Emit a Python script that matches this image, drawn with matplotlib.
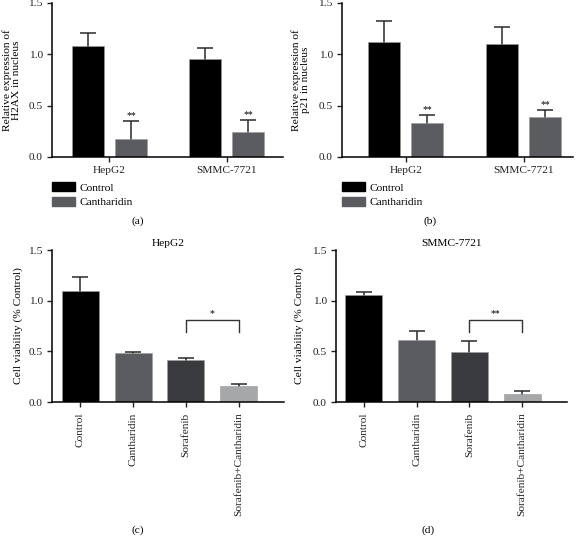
import numpy as np
import matplotlib
matplotlib.use("Agg")
import matplotlib.pyplot as plt

plt.rcParams['font.family'] = ['Liberation Serif', 'DejaVu Serif']

# datos paneles a y b
grupos = ["HepG2", "SMMC-7721"]
h2ax_control = [1.08, 0.95]
h2ax_control_err = [0.13, 0.11]
h2ax_canth = [0.18, 0.24]
h2ax_canth_err = [0.17, 0.12]

p21_control = [1.12, 1.10]
p21_control_err = [0.20, 0.17]
p21_canth = [0.33, 0.39]
p21_canth_err = [0.08, 0.07]

# datos paneles c y d
tratamientos = ["Control", "Cantharidin", "Sorafenib", "Sorafenib+Cantharidin"]
viab_hepg2 = [1.10, 0.48, 0.41, 0.155]
viab_hepg2_err = [0.13, 0.015, 0.02, 0.025]
viab_smmc = [1.06, 0.61, 0.49, 0.08]
viab_smmc_err = [0.03, 0.09, 0.11, 0.03]

W, H = 581, 536
negro = "#000000"
gris = "#5a5c5f"
gris_osc = "#3a3b3e"
gris_cl = "#a5a7a9"
fs = 8.2

fig = plt.figure(figsize=(W / 100, H / 100), dpi=100)


def ejes(x0, y_top, x1, y_bot):
    ax = fig.add_axes([x0 / W, 1 - y_bot / H, (x1 - x0) / W, (y_bot - y_top) / H])
    ax.spines['top'].set_visible(False)
    ax.spines['right'].set_visible(False)
    ax.spines['left'].set_linewidth(1.1)
    ax.spines['bottom'].set_linewidth(1.1)
    ax.set_ylim(0, 1.5)
    ax.set_yticks([0, 0.5, 1.0, 1.5])
    ax.set_yticklabels(["0.0", "0.5", "1.0", "1.5"])
    ax.tick_params(direction='out', length=3.6, width=1.0, labelsize=fs, pad=3, colors='#222222')
    return ax


def barras_err(ax, x, vals, errs, colores, ancho):
    ax.bar(x, vals, width=ancho, color=colores, edgecolor='#9a9a9a', linewidth=0.4, zorder=2)
    ax.errorbar(x, vals, yerr=errs, fmt='none', ecolor='#2a2a2a',
                elinewidth=1.1, capsize=6, capthick=1.1, zorder=1)


def panel_grupos(ax, ctrl, ctrl_err, canth, canth_err, ylabel, xlim, xlab):
    x = np.arange(len(grupos))
    d = 0.184
    barras_err(ax, x - d, ctrl, ctrl_err, negro, 0.27)
    barras_err(ax, x + d, canth, canth_err, gris, 0.27)
    for xi, v, e in zip(x + d, canth, canth_err):
        ax.text(xi, v + e + 0.005, "**", ha='center', va='bottom', fontsize=7)
    ax.set_xticks(x)
    ax.set_xticklabels(grupos)
    ax.set_xlim(*xlim)
    ax.set_ylabel(ylabel, fontsize=fs, linespacing=1.0)
    ax.yaxis.set_label_coords(xlab, 0.5)
    h = [plt.Rectangle((0, 0), 1, 1, color=negro), plt.Rectangle((0, 0), 1, 1, color=gris)]
    ax.legend(h, ["Control", "Cantharidin"], loc='upper left', bbox_to_anchor=(0, -0.165),
              frameon=False, fontsize=fs, handlelength=2.0, handleheight=0.85,
              handletextpad=0.45, labelspacing=0.32, borderpad=0, borderaxespad=0)


def panel_trat(ax, vals, errs, titulo, sig, xlim, xlab):
    x = np.arange(len(tratamientos))
    barras_err(ax, x, vals, errs, [negro, gris, gris_osc, gris_cl], 0.70)
    ax.set_xticks(x)
    ax.set_xticklabels(tratamientos, rotation=90)
    ax.tick_params(axis='x', pad=4)
    ax.set_xlim(*xlim)
    ax.set_ylabel("Cell viability (% Control)", fontsize=fs)
    ax.yaxis.set_label_coords(xlab, 0.5)
    ax.set_title(titulo, fontsize=fs, pad=3)
    # corchete de significancia
    ax.plot([2, 2, 3, 3], [0.69, 0.81, 0.81, 0.69], color='#333333', lw=1.0)
    ax.text(2.5, 0.83, sig, ha='center', va='bottom', fontsize=7)


ax_a = ejes(52, 3, 283, 157)
panel_grupos(ax_a, h2ax_control, h2ax_control_err, h2ax_canth, h2ax_canth_err,
             "Relative expression of\nH2AX in nucleus", (-0.49, 1.48), -0.135)

ax_b = ejes(342, 3, 573, 157)
panel_grupos(ax_b, p21_control, p21_control_err, p21_canth, p21_canth_err,
             "Relative expression of\np21 in nucleus", (-0.54, 1.42), -0.14)

ax_c = ejes(52, 250, 284, 402)
panel_trat(ax_c, viab_hepg2, viab_hepg2_err, "HepG2", "*", (-0.54, 3.86), -0.125)

ax_d = ejes(336, 250, 567, 402)
panel_trat(ax_d, viab_smmc, viab_smmc_err, "SMMC-7721", "**", (-0.53, 3.85), -0.14)

for etiqueta, xp, yp in [("(a)", 138, 221), ("(b)", 430, 221), ("(c)", 138, 530), ("(d)", 428, 530)]:
    fig.text(xp / W, 1 - yp / H, etiqueta, ha='center', va='center', fontsize=fs)

fig.savefig("out.png", dpi=100)
